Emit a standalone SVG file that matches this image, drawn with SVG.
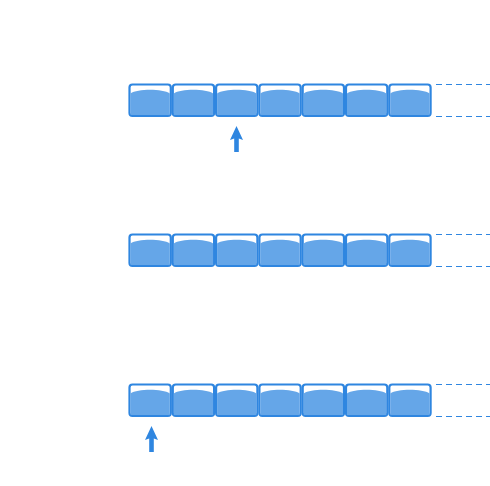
<svg xmlns="http://www.w3.org/2000/svg" width="490" height="486" viewBox="0 0 490 486">
<defs>
<style>
.box{fill:#ffffff;stroke:#2f86e0;stroke-width:2.2}
.water{fill:#65a6e8}
.dash{stroke:#2f86e0;stroke-width:1;stroke-dasharray:6 4;fill:none}
.arrow{fill:#2f86e0}
</style>
<g id="cell">
<rect class="box" x="1" y="1" width="41.3" height="31.5" rx="3"/>
<path class="water" d="M2,10 C9,5 34,5 41.3,10 L41.3,31.5 L2,31.5 Z"/>
</g>
<g id="row">
<use href="#cell" x="0"/>
<use href="#cell" x="43.3"/>
<use href="#cell" x="86.6"/>
<use href="#cell" x="129.9"/>
<use href="#cell" x="173.2"/>
<use href="#cell" x="216.5"/>
<use href="#cell" x="259.8"/>
<line class="dash" x1="307.5" y1="1" x2="362" y2="1"/>
<line class="dash" x1="307.5" y1="33" x2="362" y2="33"/>
</g>
<path id="arr" class="arrow" d="M0,0 L6.5,14 L2.3,12.5 L2.3,26 L-2.3,26 L-2.3,12.5 L-6.5,14 Z"/>
</defs>
<g id="row1"><use href="#row" x="128.5" y="83.5"/></g>
<g id="row2"><use href="#row" x="128.5" y="233.5"/></g>
<g id="row3"><use href="#row" x="128.5" y="383.5"/></g>
<g id="connectors">
<use href="#arr" x="236.5" y="126"/>
<use href="#arr" x="151.5" y="426"/>
</g>
</svg>
